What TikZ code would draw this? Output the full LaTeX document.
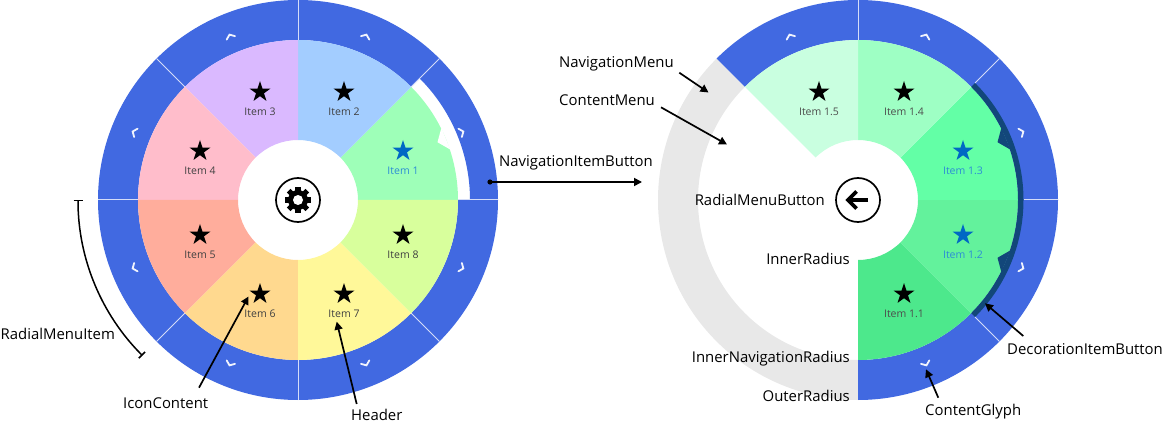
\documentclass[tikz,border=0pt]{standalone}
\usepackage{fontspec}
\setmainfont{Open Sans}
\usetikzlibrary{shapes.geometric, arrows.meta, positioning, calc}
\definecolor{navBlue}{HTML}{4169E1}
\definecolor{sepBlue}{HTML}{D5DDF8}
\definecolor{ringGray}{HTML}{E8E8E8}
\definecolor{decoDark}{HTML}{12477A}
\definecolor{starBlue}{HTML}{0068C4}
\definecolor{textBlue}{HTML}{2C8CD6}
\tikzset{
  note/.style = {font=\fontsize{14.9}{17}\selectfont, text=black, inner sep=0pt},
  arrow/.style = {-{Triangle[width=8pt,length=8pt]}, line width=1.7pt},
  itemStar/.style = {star, star points=5, star point ratio=2.618, minimum size=22pt, inner sep=0pt},
  itemLabel/.style = {font=\fontsize{10.5}{12}\selectfont, inner sep=0pt},
  ringButton/.style = {draw=black, line width=1.7pt, circle, minimum size=44pt, inner sep=0pt},
  glyph/.style = {draw=white!92!navBlue, line width=1.8pt, line cap=round}
}
\begin{document}
\begin{tikzpicture}[x=1pt,y=1pt]
  \useasboundingbox (0,0) rectangle (1163,-425);
  \def\Rout{200}
  \def\Rnav{160}
  \def\Rin{60}

  % left menu
  \begin{scope}[shift={(298,-200)}]
    \fill[navBlue] (0:\Rout) arc (0:90:\Rout) -- (90:\Rnav) arc (90:45:\Rnav) -- (45:172) arc (45:0:172) -- cycle;
    \fill[navBlue] (90:\Rout) arc (90:360:\Rout) -- (0:\Rnav) arc (360:90:\Rnav) -- cycle;
    \foreach \a/\col in {0/9EFFB8, 45/A3CDFF, 90/DAB9FF, 135/FFBDCB, 180/FFAD9C, 225/FFD98F, 270/FFF899, 315/D8FF9C} {
      \definecolor{sectorCol}{HTML}{\col}
      \fill[sectorCol] (\a:\Rin) -- (\a:\Rnav) arc (\a:\a+45:\Rnav) -- ({\a+45}:\Rin) arc (\a+45:\a:\Rin) -- cycle;
    }
    % notch of the hidden decoration
    \fill[white] (26.7:160.5) -- (22.5:151) -- (18.3:160.5) -- cycle;
    \foreach \a in {0,45,...,315}
      \draw[sepBlue, line width=1pt] (\a:\Rnav) -- (\a:\Rout);
    \foreach \a in {22.5,67.5,...,337.5}
      \draw[glyph, shift={(\a:178)}, rotate=\a-90] (-4.5,-2.5) -- (0,1) -- (4.5,-2.5);
    \node[ringButton] (menuButton) at (0,0) {};
    % gear
    \fill[black] (0,0) circle (10);
    \foreach \a in {0,45,...,315}
      \fill[black, rotate=\a] (8,-2.6) rectangle (13.2,2.6);
    \fill[white] (0,0) circle (5);
  \end{scope}

  \foreach \n/\sx/\sy/\starCol/\textCol in {
    1/403/151/starBlue/textBlue, 2/344/92/black/black!75, 3/260/92/black/black!75, 4/200/151/black/black!75,
    5/200/235/black/black!75, 6/260/294/black/black!75, 7/344/294/black/black!75, 8/403/235/black/black!75} {
    \node[itemStar, fill=\starCol] (star\n) at (\sx,-\sy) {};
    \node[itemLabel, text=\textCol] (item\n) at (\sx,-\sy-19.5) {Item \n};
  }

  % right menu
  \begin{scope}[shift={(858,-200)}]
    \fill[ringGray] (135:\Rout) arc (135:270:\Rout) -- (270:\Rnav) arc (270:135:\Rnav) -- cycle;
    \fill[navBlue] (-90:\Rout) arc (-90:135:\Rout) -- (135:\Rnav) arc (135:-90:\Rnav) -- cycle;
    \foreach \a/\col in {-90/4DE88C, -45/63F29C, 0/63FFA6, 45/9EFFC4, 90/C9FFE0} {
      \definecolor{sectorCol}{HTML}{\col}
      \fill[sectorCol] (\a:\Rin) -- (\a:\Rnav) arc (\a:\a+45:\Rnav) -- ({\a+45}:\Rin) arc (\a+45:\a:\Rin) -- cycle;
    }
    \fill[decoDark] (-45:\Rnav) arc (-45:45:\Rnav) -- (45:165.5) arc (45:-45:165.5) -- cycle;
    \fill[decoDark] (26.7:160.5) -- (22.5:151) -- (18.3:160.5) -- cycle;
    \fill[decoDark] (-26.7:160.5) -- (-22.5:151) -- (-18.3:160.5) -- cycle;
    \foreach \a in {-45,0,45,90}
      \draw[sepBlue, line width=1pt] (\a:{\a==90 ? \Rnav : 165.5}) -- (\a:\Rout);
    \foreach \a in {-67.5,-22.5,...,112.5}
      \draw[glyph, shift={(\a:178)}, rotate=\a-90] (-4.5,-2.5) -- (0,1) -- (4.5,-2.5);
    \node[ringButton] (backButton) at (0,0) {};
    % back arrow
    \draw[black, line width=3.6pt] (10,0) -- (-9,0);
    \draw[black, line width=3.6pt, line join=miter] (-1.5,8.5) -- (-10,0) -- (-1.5,-8.5);
  \end{scope}

  \foreach \n/\sx/\sy/\starCol/\textCol in {
    1/904/294/black/black!70, 2/963/235/starBlue/textBlue, 3/963/151/starBlue/textBlue,
    4/904/92/black/black!70, 5/819/92/black/black!70} {
    \node[itemStar, fill=\starCol] (subStar\n) at (\sx,-\sy) {};
    \node[itemLabel, text=\textCol] (subItem\n) at (\sx,-\sy-19.5) {Item 1.\n};
  }

  % notes
  \node[note, anchor=base west] (navButton) at (499,-166.7) {NavigationItemButton};
  \node[note, anchor=base west] (navMenu) at (559,-67.7) {NavigationMenu};
  \node[note, anchor=base west] (contentMenu) at (559,-106) {ContentMenu};
  \node[note, anchor=base east] (radialButton) at (825,-206) {RadialMenuButton};
  \node[note, anchor=base east] (innerRadius) at (850,-265) {InnerRadius};
  \node[note, anchor=base east] (innerNav) at (850,-362.3) {InnerNavigationRadius};
  \node[note, anchor=base east] (outerRadius) at (850,-401.7) {OuterRadius};
  \node[note, anchor=base west] (decoButton) at (1007,-354.7) {DecorationItemButton};
  \node[note, anchor=base west] (contentGlyph) at (925,-415) {ContentGlyph};
  \node[note, anchor=base west] (iconContent) at (123,-408.3) {IconContent};
  \node[note, anchor=base west] (headerText) at (351,-420.3) {Header};
  \node[note, anchor=base west] (menuItem) at (0.5,-339) {RadialMenuItem};

  \coordinate (navStart) at (490,-182);
  \coordinate (navEnd) at (642,-182);
  \coordinate (menuStart) at (679.3,-72.7);
  \coordinate (menuEnd) at (708.5,-92.5);
  \coordinate (contentStart) at (661,-107.3);
  \coordinate (contentEnd) at (727,-144.5);
  \coordinate (decoStart) at (1023.3,-336);
  \coordinate (decoEnd) at (985,-303.3);
  \coordinate (glyphStart) at (938.3,-397.7);
  \coordinate (glyphEnd) at (926,-369.3);
  \coordinate (iconStart) at (199,-387.7);
  \coordinate (iconEnd) at (248.5,-296.5);
  \coordinate (headerStart) at (356.7,-404);
  \coordinate (headerEnd) at (336.7,-321.7);
  \coordinate (spanStart) at (78,-200);

  \fill[black] (navStart) circle (2.6);
  \draw[arrow] (navStart) -- (navEnd);
  \draw[arrow] (menuStart) -- (menuEnd);
  \draw[arrow] (contentStart) -- (contentEnd);
  \draw[arrow] (decoStart) -- (decoEnd);
  \draw[arrow] (glyphStart) -- (glyphEnd);
  \draw[arrow] (iconStart) -- (iconEnd);
  \draw[arrow] (headerStart) -- (headerEnd);
  \draw[{Bar[width=9pt]}-{Bar[width=9pt]}, line width=1.5pt] (spanStart) arc (180:225:220);
\end{tikzpicture}
\end{document}
